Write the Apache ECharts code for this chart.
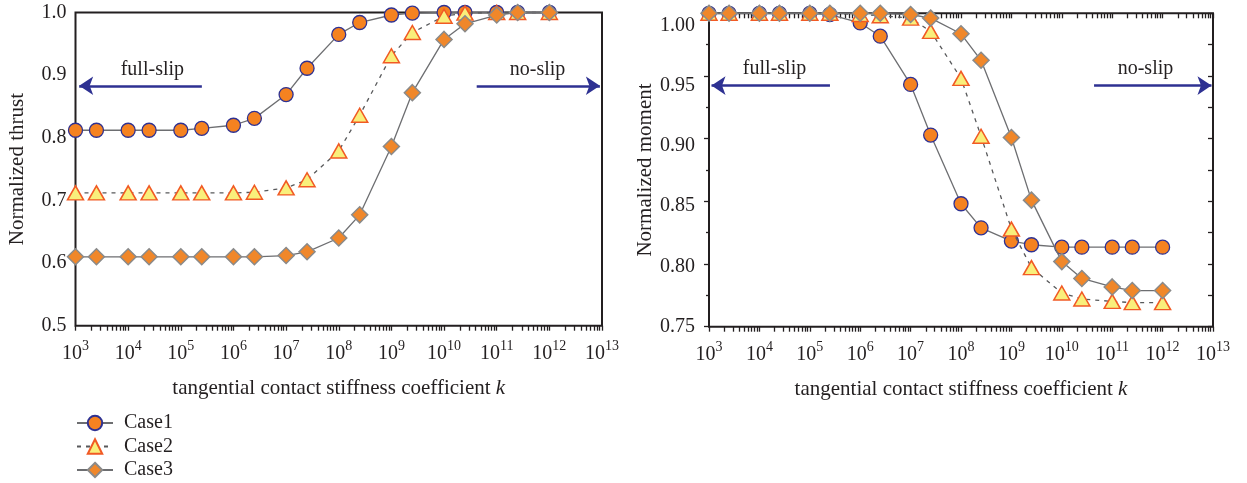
<!DOCTYPE html>
<html><head><meta charset="utf-8">
<script src="https://cdn.jsdelivr.net/npm/echarts@6/dist/echarts.min.js"></script>
<style>html,body{margin:0;padding:0;background:#fff}#c{width:1247px;height:483px}</style>
</head><body><div id="c"></div>
<script>
// ---------- data ----------
const kValues = [1e3, 2.5e3, 1e4, 2.5e4, 1e5, 2.5e5, 1e6, 2.5e6, 1e7, 2.5e7, 1e8, 2.5e8, 1e9, 2.5e9, 1e10, 2.5e10, 1e11, 2.5e11, 1e12];
const thrustCase1 = [0.812, 0.812, 0.812, 0.812, 0.812, 0.815, 0.820, 0.831, 0.869, 0.911, 0.965, 0.984, 0.996, 0.999, 1.0, 1.0, 1.0, 1.0, 1.0];
const thrustCase2 = [0.712, 0.712, 0.712, 0.712, 0.712, 0.712, 0.712, 0.713, 0.720, 0.733, 0.779, 0.836, 0.931, 0.968, 0.994, 0.999, 1.0, 1.0, 1.0];
const thrustCase3 = [0.610, 0.610, 0.610, 0.610, 0.610, 0.610, 0.610, 0.610, 0.612, 0.618, 0.640, 0.677, 0.786, 0.872, 0.957, 0.982, 0.996, 1.0, 1.0];
const momentCase1 = [1.010, 1.010, 1.010, 1.010, 1.010, 1.009, 1.002, 0.991, 0.951, 0.909, 0.852, 0.832, 0.821, 0.818, 0.816, 0.816, 0.816, 0.816, 0.816];
const momentCase2 = [1.010, 1.010, 1.010, 1.010, 1.010, 1.010, 1.009, 1.008, 1.006, 0.995, 0.956, 0.908, 0.831, 0.799, 0.778, 0.773, 0.771, 0.770, 0.770];
const momentCase3 = [1.010, 1.010, 1.010, 1.010, 1.010, 1.010, 1.010, 1.010, 1.009, 1.006, 0.993, 0.971, 0.907, 0.855, 0.804, 0.790, 0.783, 0.780, 0.780];
const xTickExponents = [3, 4, 5, 6, 7, 8, 9, 10, 11, 12, 13];
const thrustTicks = [0.5, 0.6, 0.7, 0.8, 0.9, 1.0];
const momentTicks = [0.75, 0.80, 0.85, 0.90, 0.95, 1.00];
const seriesNames = ['Case1', 'Case2', 'Case3'];

// ---------- style ----------
const FONT = 'Liberation Serif';
const TXT = '#231F20';
const NAVY = '#2E3192';

const logTicks = [];
for (let n = 3; n < 13; n++) for (let m = 1; m <= 9; m++) logTicks.push(n + Math.log10(m));
logTicks.push(13);

function logAxis(gridIndex) {
  return { type: 'log', logBase: 10, gridIndex, position: 'bottom', min: 1e3, max: 1e13, show: false,
    axisLine: { show: false, onZero: false } };
}
function tickXAxis(gridIndex, position, inside, showLabel, withName) {
  const ax = {
    type: 'value', gridIndex, position, min: 3, max: 13, interval: 1,
    axisLine: { show: false, onZero: false }, splitLine: { show: false },
    axisTick: { show: true, inside, length: 5, customValues: logTicks, lineStyle: { color: TXT, width: 1.3 } },
    axisLabel: { show: showLabel, margin: 14, customValues: xTickExponents,
      formatter: v => '{b|10}{s|' + v + '}',
      rich: {
        b: { fontFamily: FONT, fontSize: 20, color: TXT, lineHeight: 24, verticalAlign: 'bottom' },
        s: { fontFamily: FONT, fontSize: 14, color: TXT, lineHeight: 14, verticalAlign: 'top' }
      } }
  };
  if (withName) {
    ax.name = 'tangential contact stiffness coefficient {i|k}';
    ax.nameLocation = 'middle';
    ax.nameGap = 52;
    ax.nameTextStyle = { fontFamily: FONT, fontSize: 21, color: TXT,
      rich: { i: { fontFamily: FONT, fontSize: 21, color: TXT, fontStyle: 'italic' } } };
  }
  return ax;
}

const lineGray = '#6D6E71';
const styles = [
  { symbol: 'circle', symbolSize: 14, itemStyle: { color: '#F58220', borderColor: NAVY, borderWidth: 1.3 },
    lineStyle: { color: lineGray, width: 1.3, type: 'solid' } },
  { symbol: 'triangle', symbolSize: [16, 14], itemStyle: { color: '#F9EF7B', borderColor: '#F15A24', borderWidth: 1.5 },
    lineStyle: { color: '#58595B', width: 1.3, type: [4, 5] } },
  { symbol: 'diamond', symbolSize: 16, itemStyle: { color: '#F0872A', borderColor: '#8A8A8A', borderWidth: 1.5 },
    lineStyle: { color: lineGray, width: 1.3, type: 'solid' } }
];

function makeSeries(i, xIdx, yIdx, values, extra) {
  const s = Object.assign({
    name: seriesNames[i], type: 'line', xAxisIndex: xIdx, yAxisIndex: yIdx,
    data: kValues.map((k, j) => [k, values[j]]),
    clip: false, animation: false, showSymbol: true, z: 3 + i,
    emphasis: { disabled: true }
  }, styles[i]);
  if (extra) Object.assign(s, extra);
  return s;
}

const txtLabel = { show: true, position: 'inside', color: TXT, fontFamily: FONT, fontSize: 20, formatter: p => p.name };
function annotations(arrows, texts) {
  return {
    markLine: { silent: true, animation: false, symbol: ['none', 'arrow'], symbolSize: 14,
      label: { show: false }, lineStyle: { color: NAVY, width: 2.5, type: 'solid', opacity: 1 },
      itemStyle: { color: NAVY },
      emphasis: { disabled: true },
      data: arrows.map(a => [{ coord: [a[0], a[2]], symbol: 'none' },
                             { coord: [a[1], a[2]], symbol: 'arrow', symbolSize: 14 }]) },
    markPoint: { silent: true, animation: false, symbol: 'circle', symbolSize: 1,
      itemStyle: { color: 'rgba(0,0,0,0)' }, label: txtLabel,
      data: texts.map(t => ({ name: t[0], coord: [t[1], t[2]] })) }
  };
}

const leftAnn = annotations(
  [[Math.pow(10, 5.40), Math.pow(10, 3.07), 0.883], [Math.pow(10, 10.62), Math.pow(10, 12.96), 0.883]],
  [['full-slip', Math.pow(10, 4.46), 0.908], ['no-slip', Math.pow(10, 11.775), 0.908]]);
const rightAnn = annotations(
  [[Math.pow(10, 5.40), Math.pow(10, 3.05), 0.950], [Math.pow(10, 10.64), Math.pow(10, 12.97), 0.950]],
  [['full-slip', Math.pow(10, 4.30), 0.9644], ['no-slip', Math.pow(10, 11.66), 0.9644]]);

const labelStyle = { fontFamily: FONT, fontSize: 20, color: TXT };

const option = {
  backgroundColor: '#fff',
  animation: false,
  grid: [
    { left: 75.5, top: 12.5, width: 526.5, height: 313.2, show: true, borderColor: TXT, borderWidth: 2, backgroundColor: 'transparent' },
    { left: 709, top: 13.3, width: 504, height: 313.4, show: true, borderColor: TXT, borderWidth: 2, backgroundColor: 'transparent' }
  ],
  xAxis: [
    logAxis(0),
    tickXAxis(0, 'bottom', false, true, true),
    logAxis(1),
    tickXAxis(1, 'bottom', false, true, true),
    tickXAxis(1, 'top', true, false, false)
  ],
  yAxis: [
    { type: 'value', gridIndex: 0, position: 'left', min: 0.5, max: 1.0,
      axisLine: { show: false, onZero: false }, axisTick: { show: false }, splitLine: { show: false },
      axisLabel: Object.assign({ margin: 9, customValues: thrustTicks, formatter: v => v.toFixed(1) }, labelStyle),
      name: 'Normalized thrust', nameLocation: 'middle', nameGap: 48,
      nameTextStyle: { fontFamily: FONT, fontSize: 21, color: TXT } },
    { type: 'value', gridIndex: 1, position: 'left', min: 0.75, max: 1.01,
      axisLine: { show: false, onZero: false }, axisTick: { show: false }, splitLine: { show: false },
      axisLabel: Object.assign({ margin: 14, customValues: momentTicks, formatter: v => v.toFixed(2) }, labelStyle),
      name: 'Normalized moment', nameLocation: 'middle', nameGap: 53,
      nameTextStyle: { fontFamily: FONT, fontSize: 21, color: TXT } },
    { type: 'value', gridIndex: 1, position: 'left', min: 0, max: 10, interval: 2,
      axisLine: { show: false, onZero: false }, splitLine: { show: false }, axisLabel: { show: false },
      axisTick: { show: true, length: 5, lineStyle: { color: TXT, width: 1.3 } },
      minorTick: { show: true, splitNumber: 2, length: 3, lineStyle: { color: TXT, width: 1.3 } } },
    { type: 'value', gridIndex: 1, position: 'right', min: 0, max: 10, interval: 1,
      axisLine: { show: false, onZero: false }, splitLine: { show: false }, axisLabel: { show: false },
      axisTick: { show: true, inside: true, length: 5, lineStyle: { color: TXT, width: 1.3 } } }
  ],
  legend: {
    data: seriesNames, orient: 'vertical', left: 76, top: 413, padding: 0,
    itemWidth: 36, itemHeight: 18, itemGap: 3.5, selectedMode: false,
    textStyle: { fontFamily: FONT, fontSize: 20, color: TXT, lineHeight: 20, padding: [0, 0, 0, 6] }
  },
  series: [
    makeSeries(0, 0, 0, thrustCase1, leftAnn),
    makeSeries(1, 0, 0, thrustCase2),
    makeSeries(2, 0, 0, thrustCase3),
    makeSeries(0, 2, 1, momentCase1, rightAnn),
    makeSeries(1, 2, 1, momentCase2),
    makeSeries(2, 2, 1, momentCase3)
  ]
};

const chart = echarts.init(document.getElementById('c'));
chart.setOption(option);
</script>
</body></html>
